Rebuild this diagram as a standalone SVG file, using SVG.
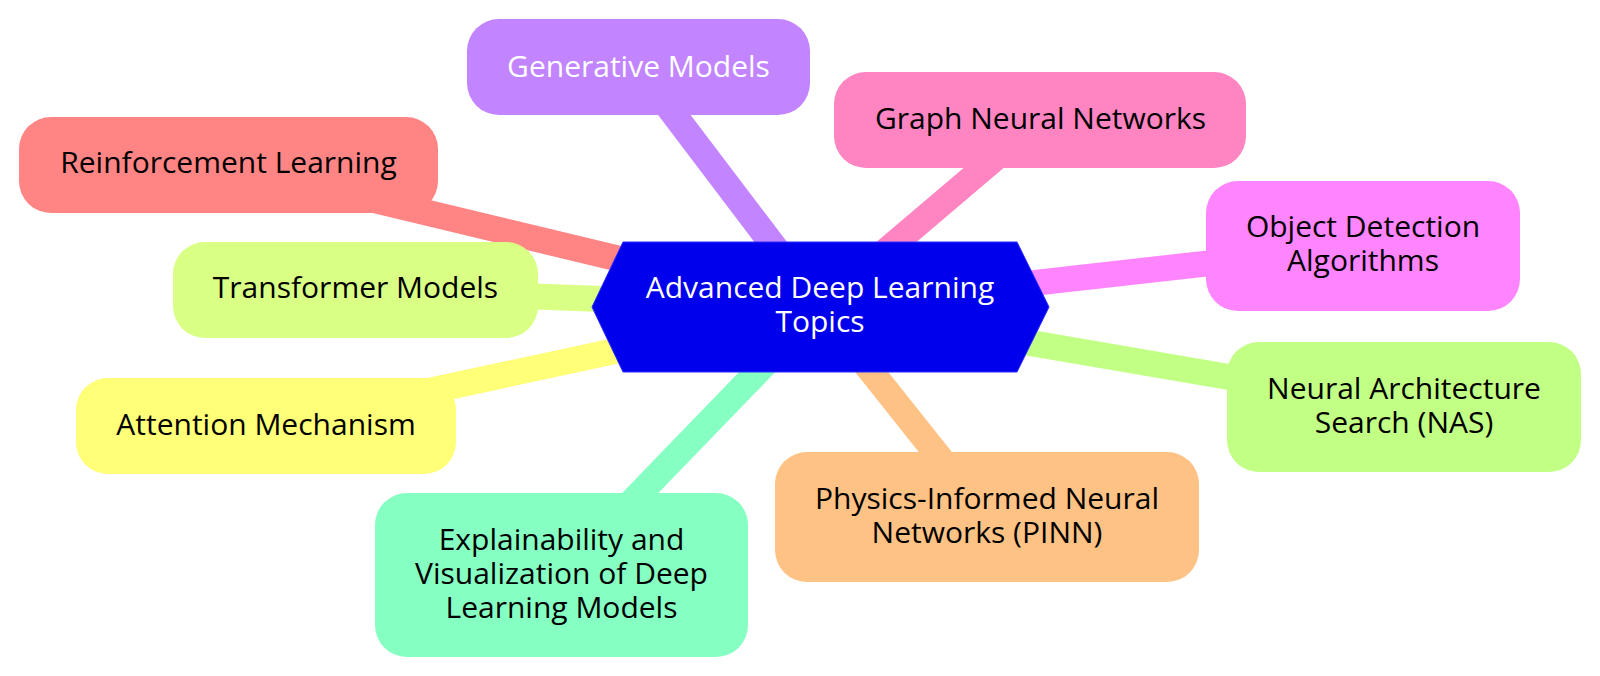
<svg xmlns="http://www.w3.org/2000/svg" width="1600" height="676" viewBox="0 0 1600 676">
<style>
.edge{stroke-width:26;fill:none;stroke-linecap:butt}
.box{stroke:none}
.lbl{font-family:"Open Sans","Noto Sans","Liberation Sans",sans-serif;font-size:30px;fill:#000;text-anchor:middle}
.wl{fill:#ffffff}
</style>
<rect width="1600" height="676" fill="#ffffff"/>
<g id="connectors">
<line class="edge" x1="820" y1="307" x2="228" y2="165" stroke="#ff8585"/>
<line class="edge" x1="820" y1="307" x2="356" y2="290" stroke="#d9ff85"/>
<line class="edge" x1="820" y1="307" x2="266" y2="426" stroke="#ffff78"/>
<line class="edge" x1="820" y1="307" x2="638" y2="67" stroke="#c285ff"/>
<line class="edge" x1="820" y1="307" x2="1040" y2="120" stroke="#ff85c2"/>
<line class="edge" x1="820" y1="307" x2="1363" y2="246" stroke="#ff85ff"/>
<line class="edge" x1="820" y1="307" x2="1404" y2="407" stroke="#c2ff85"/>
<line class="edge" x1="820" y1="307" x2="987" y2="517" stroke="#ffc285"/>
<line class="edge" x1="820" y1="307" x2="561" y2="575" stroke="#85ffc2"/>
</g>
<g id="node-root">
<polygon points="592,307 623,242 1017,242 1049,307 1017,372 623,372" fill="#0000ec" stroke="#2a2aff" stroke-width="1"/>
<text class="lbl wl" x="820" y="298">Advanced Deep Learning</text>
<text class="lbl wl" x="820" y="332">Topics</text>
</g>
<g id="node-reinforcement">
<rect class="box" x="19" y="117" width="419" height="96" rx="32" fill="#ff8585"/>
<text class="lbl" x="228.5" y="173">Reinforcement Learning</text>
</g>
<g id="node-transformer">
<rect class="box" x="173" y="242" width="365" height="96" rx="32" fill="#d9ff85"/>
<text class="lbl" x="355.5" y="298">Transformer Models</text>
</g>
<g id="node-attention">
<rect class="box" x="76" y="378" width="380" height="96" rx="32" fill="#ffff78"/>
<text class="lbl" x="266" y="435">Attention Mechanism</text>
</g>
<g id="node-generative">
<rect class="box" x="467" y="19" width="343" height="96" rx="32" fill="#c285ff"/>
<text class="lbl wl" x="638.5" y="77">Generative Models</text>
</g>
<g id="node-graph">
<rect class="box" x="834" y="72" width="412" height="96" rx="32" fill="#ff85c2"/>
<text class="lbl" x="1040.5" y="128.5">Graph Neural Networks</text>
</g>
<g id="node-object">
<rect class="box" x="1206" y="181" width="314" height="130" rx="32" fill="#ff85ff"/>
<text class="lbl" x="1363" y="237">Object Detection</text>
<text class="lbl" x="1363" y="271">Algorithms</text>
</g>
<g id="node-nas">
<rect class="box" x="1227" y="342" width="354" height="130" rx="32" fill="#c2ff85"/>
<text class="lbl" x="1404" y="398.5">Neural Architecture</text>
<text class="lbl" x="1404" y="432.5">Search (NAS)</text>
</g>
<g id="node-pinn">
<rect class="box" x="775" y="452" width="424" height="130" rx="32" fill="#ffc285"/>
<text class="lbl" x="987" y="508.5">Physics-Informed Neural</text>
<text class="lbl" x="987" y="542.5">Networks (PINN)</text>
</g>
<g id="node-explainability">
<rect class="box" x="375" y="493" width="373" height="164" rx="32" fill="#85ffc2"/>
<text class="lbl" x="561.5" y="549.5">Explainability and</text>
<text class="lbl" x="561.5" y="583.5">Visualization of Deep</text>
<text class="lbl" x="561.5" y="617.5">Learning Models</text>
</g>
</svg>
